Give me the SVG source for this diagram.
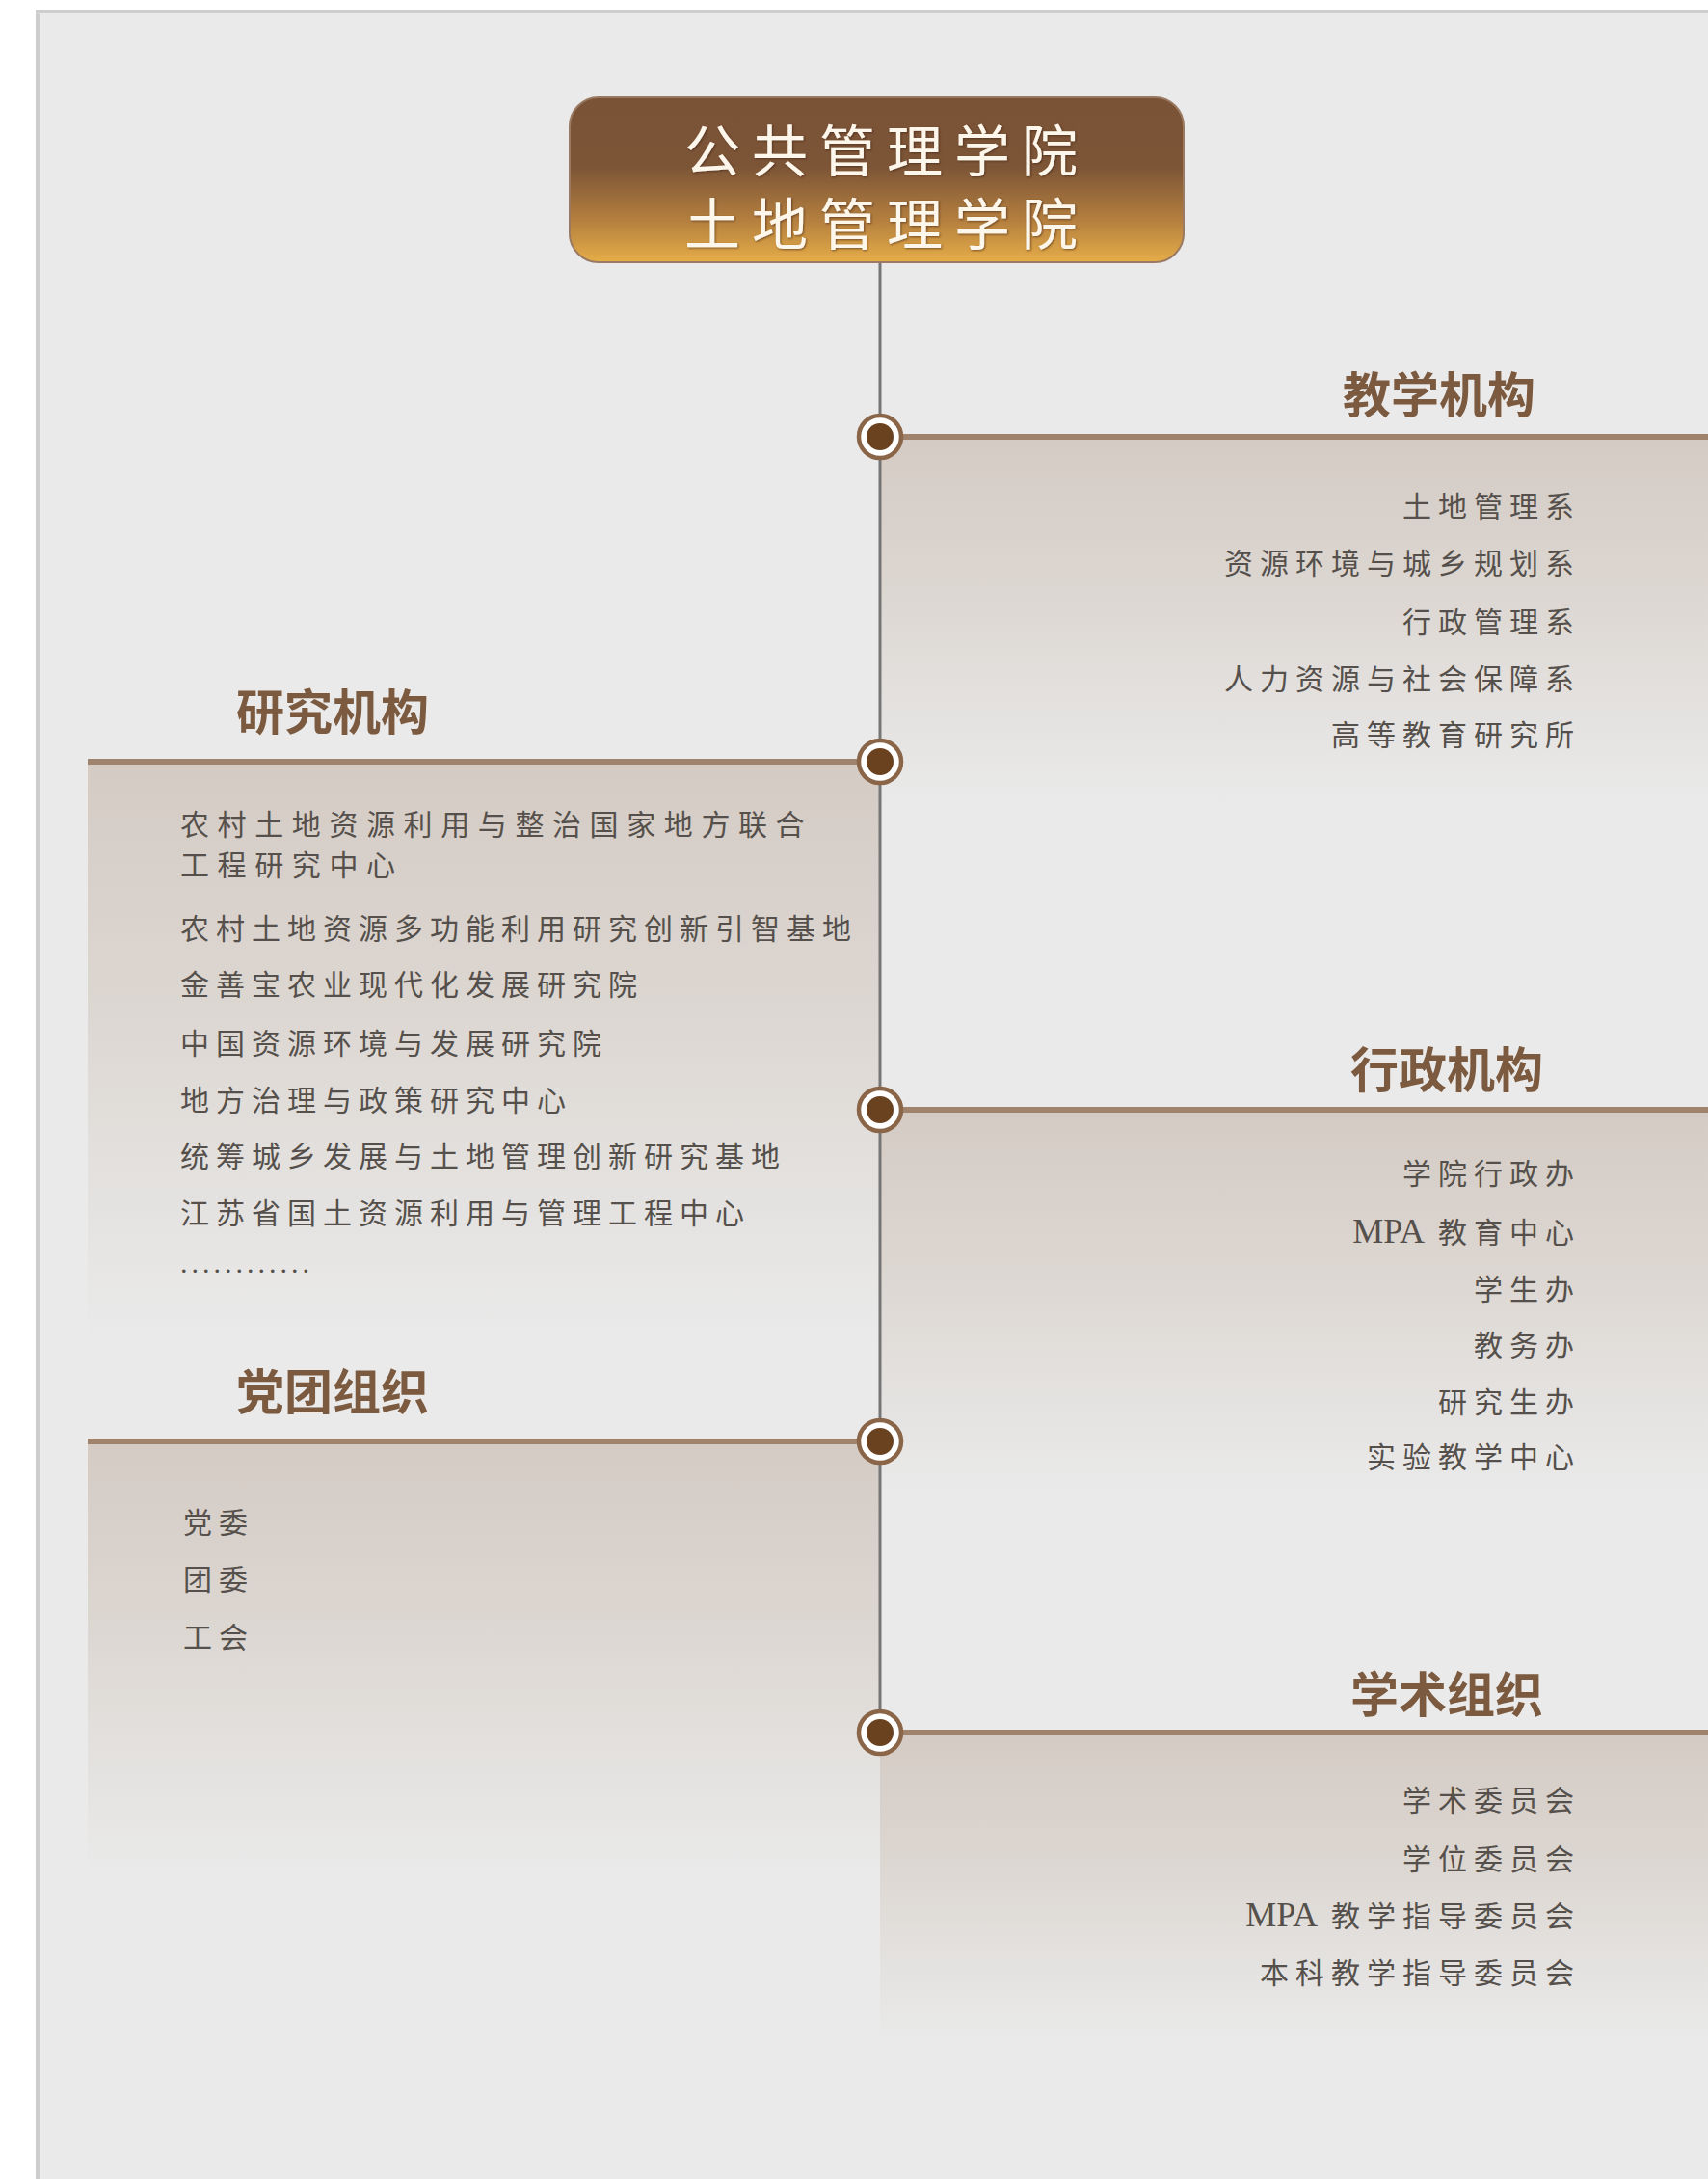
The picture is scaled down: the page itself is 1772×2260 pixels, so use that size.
<svg xmlns="http://www.w3.org/2000/svg" width="1772" height="2260" viewBox="0 0 1772 2260">
<defs>
<linearGradient id="gTitle" x1="0" y1="0" x2="0" y2="1">
<stop offset="0" stop-color="#7a5236"/>
<stop offset="0.42" stop-color="#7c5537"/>
<stop offset="0.75" stop-color="#b5803f"/>
<stop offset="1" stop-color="#e6ad48"/>
</linearGradient>
<linearGradient id="gPanel" x1="0" y1="0" x2="0" y2="1">
<stop offset="0" stop-color="#d4cbc4"/>
<stop offset="0.4" stop-color="#dcd6d1"/>
<stop offset="0.75" stop-color="#e4e2e0"/>
<stop offset="1" stop-color="#eaeaea"/>
</linearGradient>
<filter id="shadow" x="-10%" y="-10%" width="120%" height="130%">
<feDropShadow dx="1" dy="1" stdDeviation="1" flood-color="#3a2410" flood-opacity="0.6"/>
</filter>
<g id="dot">
<circle r="22" fill="#ffffff" stroke="#8a6548" stroke-width="4.5"/>
<circle r="14" fill="#6b4220"/>
</g>
</defs>
<style>
.head{font-family:"Noto Sans CJK SC","Noto Sans",sans-serif;font-weight:700;font-size:50px;fill:#7b5a3f}
.item{font-family:"Liberation Serif","Noto Sans CJK SC",serif;font-size:30px;letter-spacing:7px;fill:#55504b}
.itemR{text-anchor:end}
.lat{font-size:36px;letter-spacing:0px}
.bar{fill:#a0836c}
.title{font-family:"Noto Sans CJK SC",sans-serif;font-size:58px;letter-spacing:12px;fill:#fdf6ea;text-anchor:middle}
</style>
<rect x="0" y="0" width="1772" height="2260" fill="#ffffff"/>
<rect x="37" y="10" width="1740" height="2260" fill="#cdcdcd"/>
<rect x="41" y="14" width="1736" height="2250" fill="#eaeaea"/>

<g id="node-teaching">
<rect x="913" y="456" width="859" height="380" fill="url(#gPanel)"/>
<rect class="bar" x="913" y="450" width="859" height="6"/>
<text class="head" x="1393" y="428">教学机构</text>
<text class="item itemR" x="1640" y="536">土地管理系</text>
<text class="item itemR" x="1640" y="595">资源环境与城乡规划系</text>
<text class="item itemR" x="1640" y="656">行政管理系</text>
<text class="item itemR" x="1640" y="715">人力资源与社会保障系</text>
<text class="item itemR" x="1640" y="773">高等教育研究所</text>
</g>

<g id="node-research">
<rect x="91" y="793" width="822" height="600" fill="url(#gPanel)"/>
<rect class="bar" x="91" y="787" width="822" height="6"/>
<text class="head" x="245" y="757">研究机构</text>
<text class="item" x="187" y="866" style="letter-spacing:8.6px">农村土地资源利用与整治国家地方联合</text>
<text class="item" x="187" y="908" style="letter-spacing:8.6px">工程研究中心</text>
<text class="item" x="187" y="974">农村土地资源多功能利用研究创新引智基地</text>
<text class="item" x="187" y="1032">金善宝农业现代化发展研究院</text>
<text class="item" x="187" y="1093">中国资源环境与发展研究院</text>
<text class="item" x="187" y="1152">地方治理与政策研究中心</text>
<text class="item" x="187" y="1210">统筹城乡发展与土地管理创新研究基地</text>
<text class="item" x="187" y="1269">江苏省国土资源利用与管理工程中心</text>
<text class="item" x="187" y="1320" style="letter-spacing:4px">............</text>
</g>

<g id="node-admin">
<rect x="913" y="1154" width="859" height="395" fill="url(#gPanel)"/>
<rect class="bar" x="913" y="1148" width="859" height="6"/>
<text class="head" x="1401" y="1128">行政机构</text>
<text class="item itemR" x="1640" y="1228">学院行政办</text>
<text class="item itemR" x="1640" y="1289"><tspan class="lat">MPA</tspan><tspan dx="14">教育中心</tspan></text>
<text class="item itemR" x="1640" y="1348">学生办</text>
<text class="item itemR" x="1640" y="1406">教务办</text>
<text class="item itemR" x="1640" y="1465">研究生办</text>
<text class="item itemR" x="1640" y="1522">实验教学中心</text>
</g>

<g id="node-party">
<rect x="91" y="1498" width="822" height="450" fill="url(#gPanel)"/>
<rect class="bar" x="91" y="1492" width="822" height="6"/>
<text class="head" x="245" y="1462">党团组织</text>
<text class="item" x="190" y="1590">党委</text>
<text class="item" x="190" y="1649">团委</text>
<text class="item" x="190" y="1709">工会</text>
</g>

<g id="node-academic">
<rect x="913" y="1800" width="859" height="320" fill="url(#gPanel)"/>
<rect class="bar" x="913" y="1794" width="859" height="6"/>
<text class="head" x="1401" y="1776">学术组织</text>
<text class="item itemR" x="1640" y="1878">学术委员会</text>
<text class="item itemR" x="1640" y="1939">学位委员会</text>
<text class="item itemR" x="1640" y="1998"><tspan class="lat">MPA</tspan><tspan dx="14">教学指导委员会</tspan></text>
<text class="item itemR" x="1640" y="2057">本科教学指导委员会</text>
</g>

<g id="connectors">
<line x1="913" y1="271" x2="913" y2="1797" stroke="#767676" stroke-width="3"/>
<use href="#dot" x="913" y="453"/>
<use href="#dot" x="913" y="790"/>
<use href="#dot" x="913" y="1151"/>
<use href="#dot" x="913" y="1495"/>
<use href="#dot" x="913" y="1797"/>
</g>

<g id="node-root">
<rect x="591" y="101" width="637" height="171" rx="30" ry="30" fill="url(#gTitle)" stroke="#9a7a62" stroke-width="2"/>
<g filter="url(#shadow)">
<text class="title" x="920" y="178">公共管理学院</text>
<text class="title" x="920" y="254">土地管理学院</text>
</g>
</g>
</svg>
